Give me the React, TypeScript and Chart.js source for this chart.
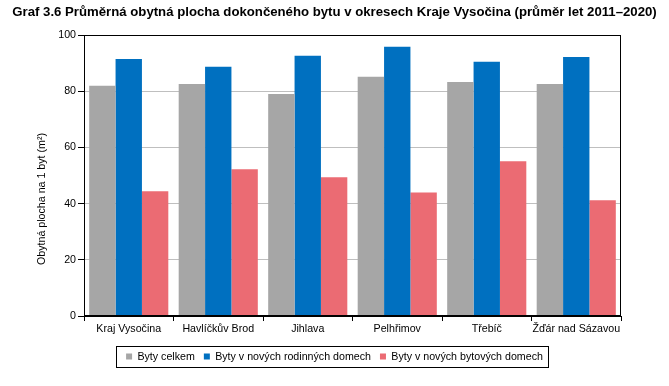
import React, { useEffect, useRef } from 'react';
import { Chart, registerables } from 'chart.js';

Chart.register(...registerables);

const categories = ['Kraj Vysočina', 'Havlíčkův Brod', 'Jihlava', 'Pelhřimov', 'Třebíč', 'Žďár nad Sázavou'];
const seriesNames = ['Byty celkem', 'Byty v nových rodinných domech', 'Byty v nových bytových domech'];
const bytyCelkem = [81.9, 82.6, 79.0, 85.1, 83.3, 82.6];
const bytyRodinne = [91.5, 88.7, 92.6, 95.8, 90.5, 92.2];
const bytyBytove = [44.4, 52.2, 49.4, 44.0, 55.1, 41.2];
const yMin = 0;
const yMax = 100;
const yStep = 20;
const titleText = 'Graf 3.6 Průměrná obytná plocha dokončeného bytu v okresech Kraje Vysočina (průměr let 2011–2020)';
const yAxisTitle = 'Obytná plocha na 1 byt (m²)';

const FONT = "'Liberation Sans', Arial, sans-serif";
const SMALL = 10.67;

const framePlugin = {
  id: 'frameAndExtras',
  afterDraw(chart: any) {
    const { ctx, chartArea: a } = chart;
    ctx.save();
    ctx.strokeStyle = '#000';
    ctx.lineWidth = 1;
    const l = Math.round(a.left) + 0.5;
    const t = Math.round(a.top) + 0.5;
    const r = Math.round(a.right) - 0.5;
    const b = Math.round(a.bottom) - 0.5;
    ctx.strokeRect(l, t, r - l, b - t);
    const hb = chart.legend && chart.legend.legendHitBoxes;
    if (hb && hb.length) {
      const first = hb[0];
      const last = hb[hb.length - 1];
      const x0 = Math.round(first.left - 10) + 0.5;
      const x1 = Math.round(last.left + last.width + 5) + 0.5;
      const yc = first.top + first.height / 2;
      const y0 = Math.round(yc - 10.5) + 0.5;
      const y1 = Math.round(yc + 10.5) + 0.5;
      ctx.strokeRect(x0, y0, x1 - x0, y1 - y0);
    }
    ctx.fillStyle = '#000';
    ctx.font = `${SMALL}px ${FONT}`;
    ctx.textAlign = 'center';
    ctx.textBaseline = 'middle';
    ctx.translate(42, 199);
    ctx.rotate(-Math.PI / 2);
    ctx.fillText(yAxisTitle, 0, 0);
    ctx.restore();
  },
};

export default function App() {
  const ref = useRef<HTMLCanvasElement | null>(null);

  useEffect(() => {
    document.body.style.margin = '0';
    const canvas = ref.current;
    if (!canvas) return;
    const chart = new Chart(canvas, {
      type: 'bar',
      data: {
        labels: categories,
        datasets: [
          { label: seriesNames[0], data: bytyCelkem, backgroundColor: '#a6a6a6', borderWidth: 0 },
          { label: seriesNames[1], data: bytyRodinne, backgroundColor: '#0070c0', borderWidth: 0 },
          { label: seriesNames[2], data: bytyBytove, backgroundColor: '#eb6b73', borderWidth: 0 },
        ],
      },
      options: {
        responsive: false,
        animation: false,
        devicePixelRatio: 1,
        layout: { padding: { left: 0, right: 0, top: 0, bottom: 14.1 } },
        datasets: { bar: { categoryPercentage: 0.884, barPercentage: 1 } },
        scales: {
          x: {
            type: 'category',
            offset: true,
            grid: {
              offset: true,
              drawOnChartArea: false,
              drawTicks: true,
              tickLength: 5,
              tickColor: '#000',
            },
            border: { display: true, color: '#000', width: 1 },
            ticks: {
              color: '#000',
              font: { family: FONT, size: SMALL },
              padding: 2,
              maxRotation: 0,
              autoSkip: false,
            },
            afterFit: (scale: any) => {
              scale.height = 26.2;
            },
          },
          y: {
            min: yMin,
            max: yMax,
            grid: {
              color: '#bfbfbf',
              lineWidth: 1,
              drawTicks: true,
              tickLength: 6,
              tickColor: '#000',
            },
            border: { display: true, color: '#000', width: 1 },
            ticks: {
              stepSize: yStep,
              color: '#000',
              font: { family: FONT, size: SMALL },
              padding: 2,
            },
            afterFit: (scale: any) => {
              scale.width = 84;
            },
          },
          yRightSpace: {
            type: 'linear',
            position: 'right',
            display: true,
            grid: { display: false, drawOnChartArea: false },
            border: { display: false },
            ticks: { display: false },
            afterFit: (scale: any) => {
              scale.width = 48;
            },
          },
        },
        plugins: {
          title: {
            display: true,
            text: titleText,
            color: '#000',
            font: { family: FONT, size: 13.2, weight: 'bold' },
            padding: { top: 4.6, bottom: 14.56 },
          },
          legend: {
            display: true,
            position: 'bottom',
            labels: {
              color: '#000',
              font: { family: FONT, size: SMALL },
              boxWidth: 6,
              boxHeight: 6,
              padding: 9,
            },
          },
          tooltip: { enabled: false },
        },
      },
      plugins: [framePlugin],
    });
    return () => chart.destroy();
  }, []);

  return (
    <div style={{ width: 669, height: 386 }}>
      <canvas ref={ref} width={669} height={386} />
    </div>
  );
}
